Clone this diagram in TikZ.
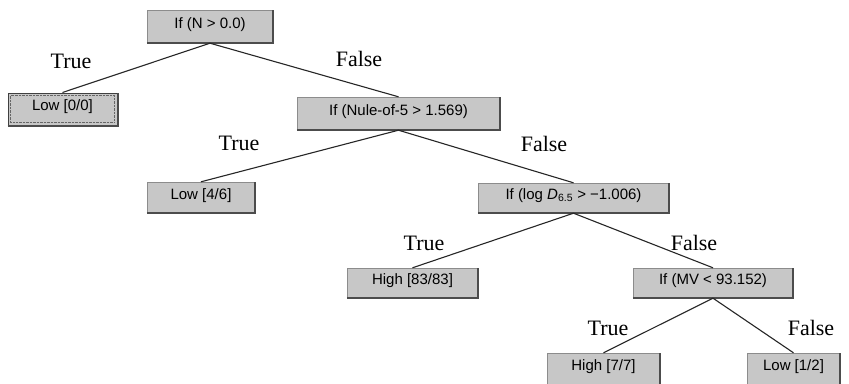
\documentclass[tikz,border=0pt]{standalone}
\usepackage{fontspec}
\setmainfont{Liberation Serif}
\setsansfont{Liberation Sans}

\begin{document}
\begin{tikzpicture}[x=1pt, y=-1pt,
    test/.style={rectangle, fill=black!22, draw=black!45, line width=0.4pt,
        minimum height=30pt, inner sep=0pt, text height=11pt, text depth=8pt,
        font=\sffamily\fontsize{15}{18}\selectfont},
    branch/.style={line width=1.1pt, black!85},
    answer/.style={font=\fontsize{22}{26}\selectfont},
    edge/.style={line width=2pt, black!70}]

    % Fix the frame of the picture
    \useasboundingbox[fill=white] (0,0) rectangle (849,383);
    \clip (0,0) rectangle (849,383);

    % Draw the tests and the leaves
    \node[test, minimum width=126pt, minimum height=33pt] (root) at (210,26.5) {If (N > 0.0)};
    \node[test, minimum width=109pt, minimum height=32pt, draw=black!75, line width=1pt] (lowA) at (62.5,109) {Low [0/0]};
    \node[test, minimum width=203pt, minimum height=33pt] (nule) at (398.5,113.5) {If (Nule-of-5 > 1.569)};
    \node[test, minimum width=108pt, minimum height=31pt] (lowB) at (201,197.5) {Low [4/6]};
    \node[test, minimum width=191pt] (logd) at (573.5,198) {If (log \textit{D}\textsubscript{6.5} > −1.006)};
    \node[test, minimum width=131pt] (highA) at (412.5,283) {High [83/83]};
    \node[test, minimum width=160pt] (mv) at (713,283) {If (MV < 93.152)};
    \node[test, minimum width=113pt, minimum height=36pt, text depth=12pt] (highB) at (603.5,371) {High [7/7]};
    \node[test, minimum width=93pt, minimum height=36pt, text depth=12pt] (lowC) at (793.5,371) {Low [1/2]};

    % Dark edges at the right and at the bottom
    \foreach \n in {root, lowA, nule, lowB, logd, highA, mv, highB, lowC}
        \draw[edge] (\n.south west) -- (\n.south east) -- (\n.north east);

    % Dotted frame of the chosen leaf
    \draw[densely dotted, black!60] ([shift={(3pt,-3pt)}]lowA.north west) rectangle ([shift={(-3pt,3pt)}]lowA.south east);

    % Connect the tests to their branches
    \draw[branch] (root.south) -- (lowA.north);
    \draw[branch] (root.south) -- (nule.north);
    \draw[branch] (nule.south) -- (lowB.north);
    \draw[branch] (nule.south) -- (logd.north);
    \draw[branch] (logd.south) -- (highA.north);
    \draw[branch] (logd.south) -- (mv.north);
    \draw[branch] (mv.south) -- (highB.north);
    \draw[branch] (mv.south) -- (lowC.north);

    % Label the branches
    \node[answer] (trueA) at (71,61) {True};
    \node[answer] (falseA) at (359,59) {False};
    \node[answer] (trueB) at (239,143) {True};
    \node[answer] (falseB) at (544,144) {False};
    \node[answer] (trueC) at (424,243) {True};
    \node[answer] (falseC) at (694,243) {False};
    \node[answer] (trueD) at (608,328) {True};
    \node[answer] (falseD) at (811,328) {False};

\end{tikzpicture}
\end{document}
